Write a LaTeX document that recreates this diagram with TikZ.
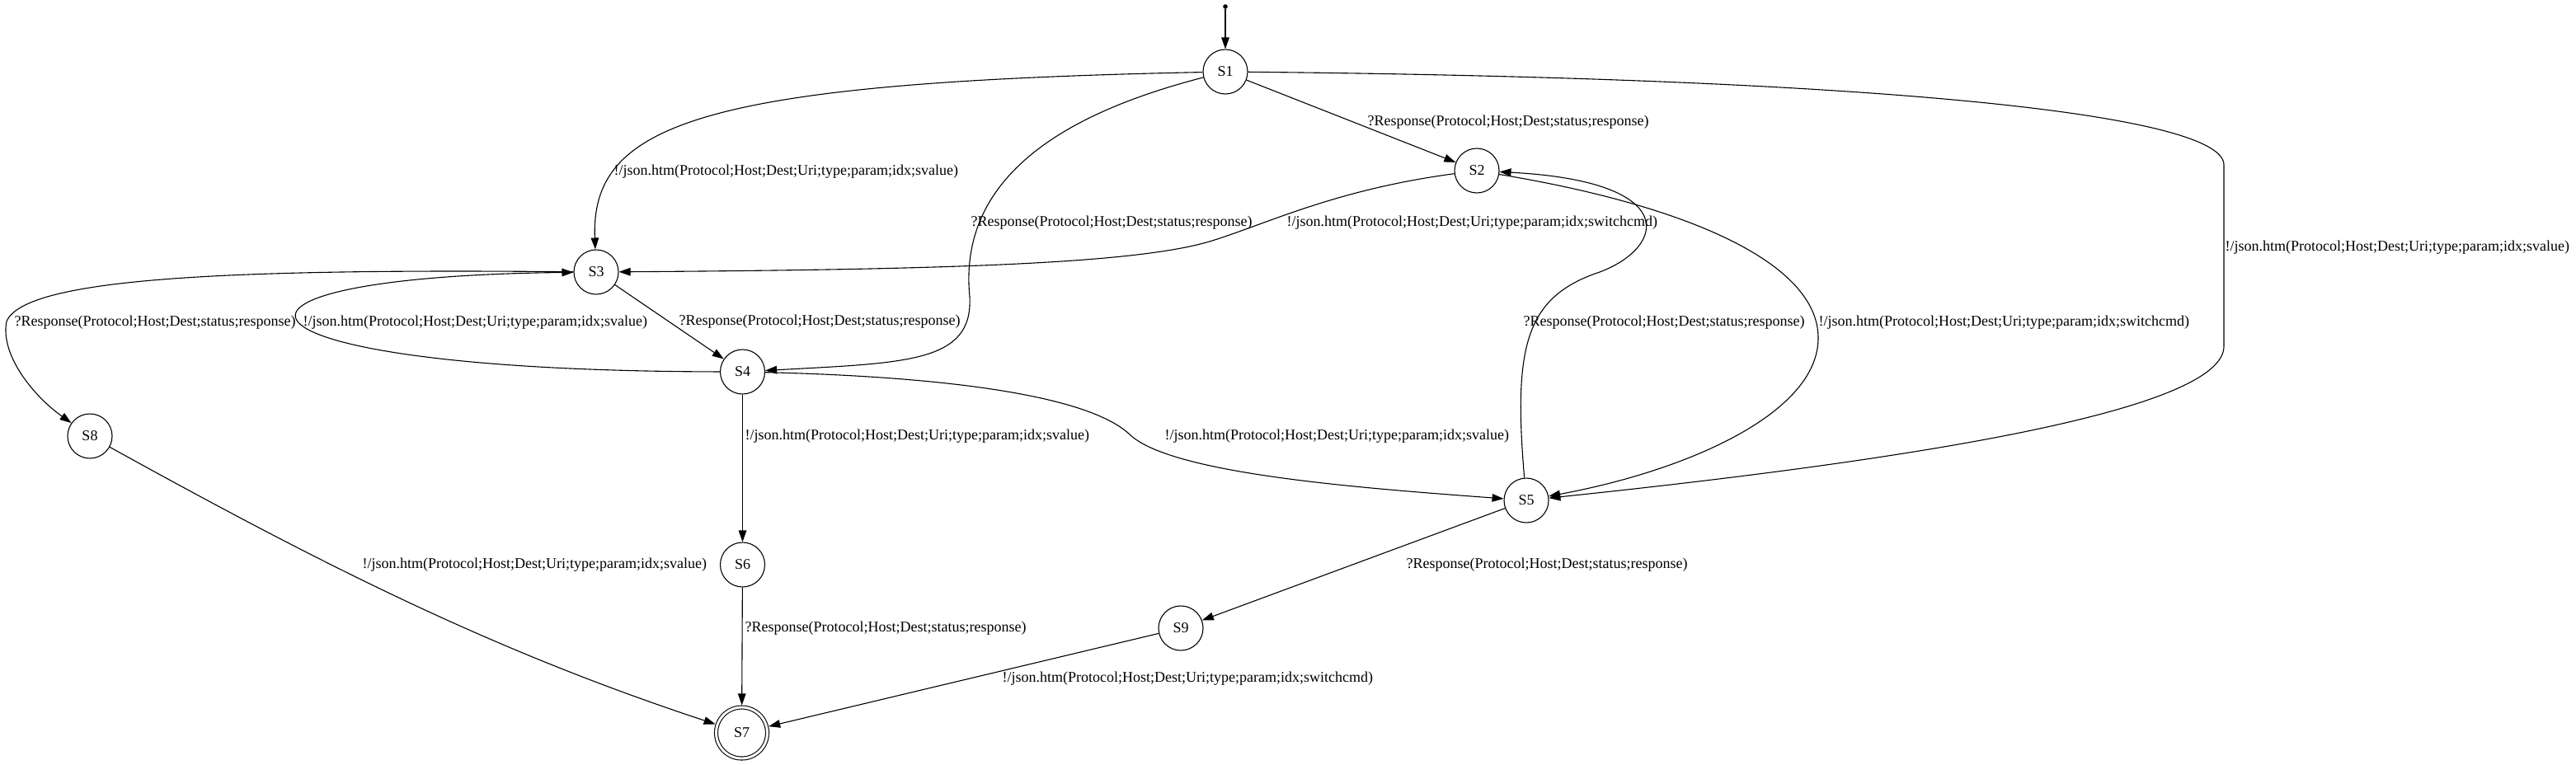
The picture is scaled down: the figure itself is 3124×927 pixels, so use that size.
\documentclass[tikz,border=0pt]{standalone}
\usepackage{fontspec}
\setmainfont{Liberation Serif}
\usetikzlibrary{arrows.meta}

\begin{document}
\begin{tikzpicture}[x=0.5pt,y=-0.5pt,line width=0.55pt,
  >={Triangle[length=7pt,width=4.8pt]},
  stnode/.style={circle,draw,minimum size=27pt,inner sep=0pt,font=\fontsize{9}{11}\selectfont},
  accept/.style={stnode,double,double distance=1.45pt,minimum size=31pt,outer sep=1.3pt},
  initdot/.style={circle,fill,inner sep=0pt,minimum size=2.8pt},
  lbl/.style={anchor=west,inner sep=0pt,font=\fontsize{9}{11}\selectfont}]
  \useasboundingbox (0,0) rectangle (3124,927);
  \node[initdot] (init) at (1486,8) {};
  \node[stnode] (S1) at (1486,87) {S1};
  \node[stnode] (S2) at (1791,207) {S2};
  \node[stnode] (S3) at (723,330) {S3};
  \node[stnode] (S4) at (900.5,451) {S4};
  \node[stnode] (S5) at (1851,607) {S5};
  \node[stnode] (S6) at (900.5,685) {S6};
  \node[accept] (S7) at (899.5,889) {S7};
  \node[stnode] (S8) at (109,529) {S8};
  \node[stnode] (S9) at (1432,762) {S9};
  \draw[->] (init) -- (S1);
  \draw[->] (S1) -- (S2);
  \draw[->] (S1) .. controls (850,100) and (716,150) .. (S3);
  \draw[->] (S1) .. controls (1320,130) and (1160,200) .. (1176,360)
    .. controls (1180,440) and (1100,440) .. (S4);
  \draw[->] (S1) .. controls (2300,95) and (2697,140) .. (2697,200)
    -- (2697,420) .. controls (2697,500) and (2300,560) .. (S5);
  \draw[->] (S2) .. controls (1620,230) and (1540,270) .. (1470,292)
    .. controls (1380,320) and (1150,327) .. (S3);
  \draw[->] (S2) .. controls (2050,250) and (2205,320) .. (2205,410)
    .. controls (2205,500) and (2050,570) .. (S5);
  \draw[->] (S3) -- (S4);
  \draw[->] (S3) .. controls (300,326) and (30,335) .. (8,390)
    .. controls (0,430) and (40,480) .. (S8);
  \draw[->] (S4) .. controls (250,450) and (200,336) .. (S3);
  \draw[->] (S4) .. controls (1150,457) and (1320,480) .. (1370,527)
    .. controls (1420,575) and (1650,592) .. (S5);
  \draw[->] (S4) -- (S6);
  \draw[->] (S5) .. controls (1835,420) and (1850,360) .. (1940,330)
    .. controls (2020,300) and (2040,220) .. (S2);
  \draw[->] (S5) -- (S9);
  \draw[->] (S6) -- (S7);
  \draw[->] (S8) .. controls (400,690) and (600,790) .. (S7);
  \draw[->] (S9) -- (S7);
  \node[lbl] (l12) at (1658,148) {?Response(Protocol;Host;Dest;status;response)};
  \node[lbl] (l13) at (744,208) {!/json.htm(Protocol;Host;Dest;Uri;type;param;idx;svalue)};
  \node[lbl] (l14) at (1177,270) {?Response(Protocol;Host;Dest;status;response)};
  \node[lbl] (l15) at (2698,300) {!/json.htm(Protocol;Host;Dest;Uri;type;param;idx;svalue)};
  \node[lbl] (l23) at (1560,270) {!/json.htm(Protocol;Host;Dest;Uri;type;param;idx;switchcmd)};
  \node[lbl] (l25) at (2205,391) {!/json.htm(Protocol;Host;Dest;Uri;type;param;idx;switchcmd)};
  \node[lbl] (l34) at (823,390) {?Response(Protocol;Host;Dest;status;response)};
  \node[lbl] (l38) at (17,391) {?Response(Protocol;Host;Dest;status;response)};
  \node[lbl] (l43) at (367,391) {!/json.htm(Protocol;Host;Dest;Uri;type;param;idx;svalue)};
  \node[lbl] (l45) at (1412,529) {!/json.htm(Protocol;Host;Dest;Uri;type;param;idx;svalue)};
  \node[lbl] (l46) at (903,529) {!/json.htm(Protocol;Host;Dest;Uri;type;param;idx;svalue)};
  \node[lbl] (l52) at (1847,391) {?Response(Protocol;Host;Dest;status;response)};
  \node[lbl] (l59) at (1705,685) {?Response(Protocol;Host;Dest;status;response)};
  \node[lbl] (l67) at (903,762) {?Response(Protocol;Host;Dest;status;response)};
  \node[lbl] (l87) at (439,685) {!/json.htm(Protocol;Host;Dest;Uri;type;param;idx;svalue)};
  \node[lbl] (l97) at (1215,823) {!/json.htm(Protocol;Host;Dest;Uri;type;param;idx;switchcmd)};
\end{tikzpicture}
\end{document}
